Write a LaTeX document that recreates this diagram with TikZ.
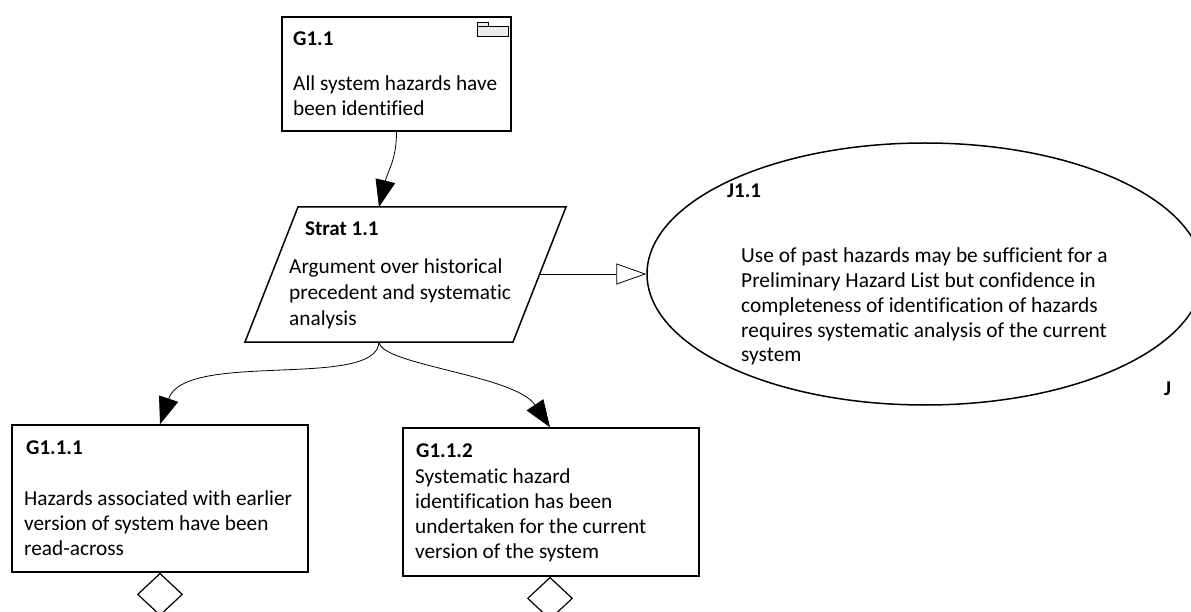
\documentclass[tikz,border=0pt]{standalone}
\usepackage{fontspec}
\setmainfont{Carlito}[Ligatures=CommonOff]
\usetikzlibrary{arrows.meta,shapes.geometric}
% left-aligned stack of lines whose baseline is the first line's baseline
\newcommand\gsnlines[1]{\vtop{\halign{##\hfil\cr#1\crcr}}}

\begin{document}
\begin{tikzpicture}[x=1pt,y=-1pt,
  box/.style={draw, line width=1.5pt, rectangle, inner sep=0pt},
  lbl/.style={anchor=base west, inner sep=0pt, font=\fontsize{21.3}{25}\selectfont},
  ttl/.style={anchor=base west, inner sep=0pt, font=\fontsize{21}{25}\selectfont\bfseries},
  link/.style={line width=0.8pt},
  solved/.style={link, -{Triangle[length=27pt,width=20pt]}},
  context/.style={link, -{Triangle[open, length=30pt, width=21pt, fill=white]}},
  undev/.style={draw, diamond, line width=1.2pt, inner sep=0pt,
                minimum width=45pt, minimum height=42pt, anchor=north}
]
\useasboundingbox (0,0) rectangle (1191,612);
\fill[white] (0,0) rectangle (1191,612);

% ---- Goal G1.1 with module (package) marker
\node[box, minimum width=229pt, minimum height=114pt] (g11) at (396.5,74) {};
\node[ttl] (g11t) at (293,46) {G1.1};
\node[lbl, font=\fontsize{21.3}{25.5}\selectfont] (g11b) at (293,90.5)
  {\gsnlines{All system hazards have\cr been identified}};
\filldraw[fill=black!7, line width=1pt] (477,22.7) rectangle (488.3,26.7);
\filldraw[fill=black!7, line width=1pt] (477,26.7) rectangle (508.3,36.7);

% ---- Strategy Strat 1.1 (parallelogram)
\coordinate (stl) at (298,207);
\coordinate (str) at (566,207);
\coordinate (sbr) at (513,342);
\coordinate (sbl) at (245,342);
\draw[line width=1.5pt] (stl) -- (str) -- (sbr) -- (sbl) -- cycle;
\coordinate (stop) at (379,207);
\coordinate (sbot) at (379,342);
\coordinate (sright) at (540,274);
\node[ttl] (st) at (305,236) {Strat 1.1};
\node[lbl, font=\fontsize{21.3}{26}\selectfont] (sb) at (289,273)
  {\gsnlines{Argument over historical\cr precedent and systematic\cr analysis}};

% ---- Justification J1.1
\node[draw, ellipse, line width=1.5pt, inner sep=0pt,
      minimum width=556pt, minimum height=262pt] (j11) at (925,274) {};
\node[ttl] (jt) at (727,198) {J1.1};
\node[lbl, font=\fontsize{21.4}{24.75}\selectfont] (jb) at (741,263)
  {\gsnlines{Use of past hazards may be sufficient for a\cr
   Preliminary Hazard List but confidence in\cr
   completeness of identification of hazards\cr
   requires systematic analysis of the current\cr
   system}};
\node[ttl] (jmark) at (1164,395) {J};

% ---- Sub-goals
\node[box, minimum width=296pt, minimum height=147pt] (g111) at (160,498.5) {};
\node[ttl] (g111t) at (26,454) {G1.1.1};
\node[lbl] (g111b) at (24,505)
  {\gsnlines{Hazards associated with earlier\cr version of system have been\cr read-across}};

\node[box, minimum width=296pt, minimum height=148pt] (g112) at (551,502) {};
\node[ttl] (g112t) at (416,457) {G1.1.2};
\node[lbl, font=\fontsize{21.3}{25.3}\selectfont] (g112b) at (415,483)
  {\gsnlines{Systematic hazard\cr identification has been\cr undertaken for the current\cr version of the system}};

% undeveloped markers
\node[undev] (u1) at (g111.south) {};
\node[undev] (u2) at ([xshift=-1pt]g112.south) {};

% ---- Connectors
\draw[solved] (g11.south) .. controls (396.5,160) and (388,170) .. (stop);
\draw[context] (sright) -- (j11.west);
\draw[solved] (sbot) .. controls (377,390) and (185,350) .. (g111.north);
\draw[solved] (sbot) .. controls (381,365) and (515,375) .. ([xshift=-1pt]g112.north);
\end{tikzpicture}
\end{document}
